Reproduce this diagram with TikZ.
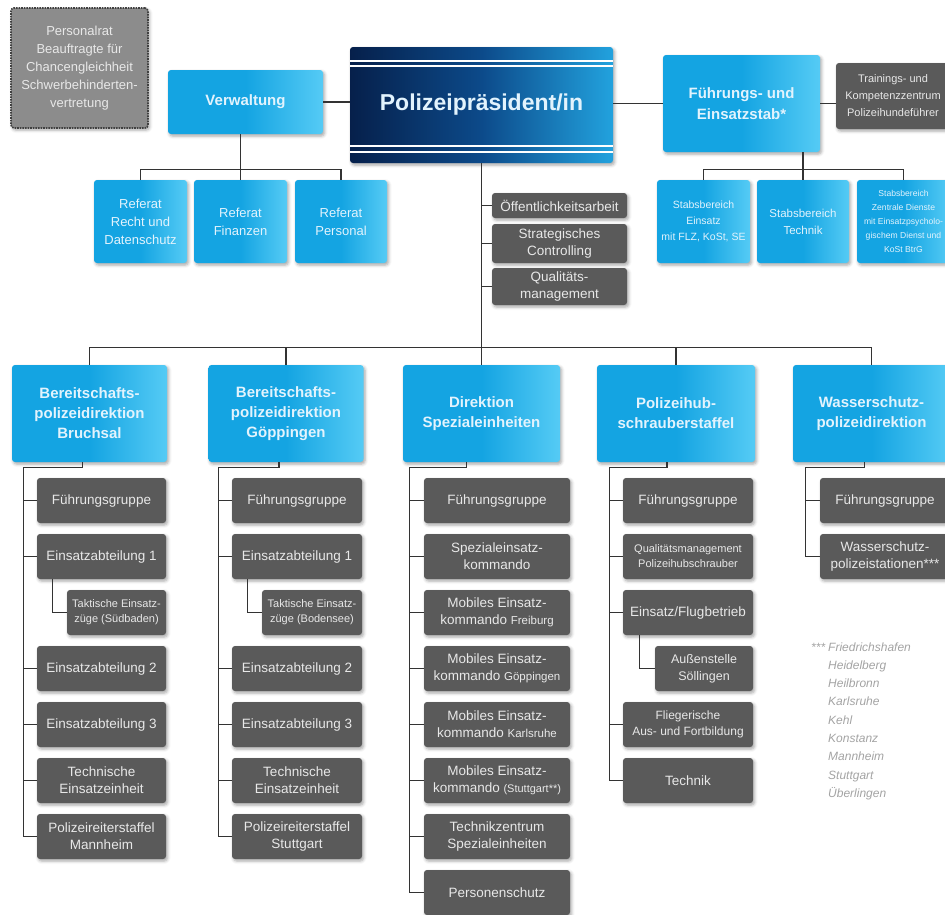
\documentclass[tikz,border=0pt]{standalone}
\usepackage{fontspec}
\setmainfont{Liberation Sans}
\usetikzlibrary{calc,shadows.blur}

\definecolor{cyanA}{HTML}{14A4E2}
\definecolor{cyanB}{HTML}{55CBF5}
\definecolor{navyA}{HTML}{06204B}
\definecolor{navyM}{HTML}{0C4A8A}
\definecolor{navyB}{HTML}{22A2DE}
\definecolor{boxgray}{HTML}{5A5A5A}
\definecolor{palegray}{HTML}{8C8C8C}
\definecolor{paletext}{HTML}{E2F3FD}
\definecolor{graytext}{HTML}{E8E8E8}
\definecolor{linecol}{HTML}{333333}
\definecolor{notecol}{HTML}{A3A3A3}

\newcommand\fsz[2]{\fontsize{#1}{#2}\selectfont}

\tikzset{
  unitbox/.style={rounded corners=3pt, inner sep=1pt, align=center,
    blur shadow={shadow xshift=1.5pt, shadow yshift=-2pt,
      shadow blur radius=3pt, shadow opacity=35}},
  bluebox/.style={unitbox, left color=cyanA, right color=cyanB,
    middle color=cyanA, text=paletext},
  headbox/.style={bluebox, font=\bfseries\fsz{15}{20},
    minimum width=155pt, minimum height=97pt},
  darkbox/.style={unitbox, fill=boxgray, text=graytext, font=\fsz{13.5}{17}},
  unit/.style={darkbox, minimum height=45pt},
  conn/.style={draw=linecol, line width=1.3pt},
}

\begin{document}
\begin{tikzpicture}[x=1pt, y=-1pt]
\useasboundingbox (0,0) rectangle (945,914);
\clip (0,0) rectangle (945,914);

% ---------- top level ----------
\node[unitbox, fill=palegray, draw=black!75, densely dotted, line width=1.6pt,
  text=graytext, font=\fsz{13}{18}, minimum width=137pt, minimum height=120pt]
  (pr) at (79.5,68) {Personalrat\\Beauftragte für\\Chancengleichheit\\Schwerbehinderten-\\vertretung};

\node[bluebox, font=\bfseries\fsz{15}{20}, minimum width=155pt, minimum height=64pt]
  (verw) at (245.5,102) {Verwaltung};

\node[unitbox, left color=navyA, right color=navyB, middle color=navyM,
  text=paletext, font=\bfseries\fsz{23}{26}, minimum width=263pt, minimum height=116pt,
  path picture={
    \foreach \yy in {14,19}
      \draw[white, line width=1.6pt]
        ([yshift=-\yy pt]path picture bounding box.north west) --
        ([yshift=-\yy pt]path picture bounding box.north east);
    \foreach \yy in {11,17}
      \draw[white, line width=1.6pt]
        ([yshift=\yy pt]path picture bounding box.south west) --
        ([yshift=\yy pt]path picture bounding box.south east);
  }] (pp) at (481.5,105) {Polizeipräsident/in};

\node[bluebox, font=\bfseries\fsz{15}{21}, minimum width=157pt, minimum height=97pt]
  (fes) at (741.5,103.5) {Führungs- und\\Einsatzstab*};

\node[darkbox, font=\fsz{11}{17}, minimum width=114pt, minimum height=66pt]
  (tk) at (893,96) {Trainings- und\\Kompetenzzentrum\\Polizeihundeführer};

% ---------- second level ----------
\node[bluebox, font=\fsz{13}{18}, minimum width=93pt, minimum height=83pt]
  (ref1) at (140.5,221.5) {Referat\\Recht und\\Datenschutz};
\node[bluebox, font=\fsz{13}{18}, minimum width=93pt, minimum height=83pt]
  (ref2) at (240.5,221.5) {Referat\\Finanzen};
\node[bluebox, font=\fsz{13}{18}, minimum width=92pt, minimum height=83pt]
  (ref3) at (341,221.5) {Referat\\Personal};

\node[bluebox, font=\fsz{10.5}{16}, minimum width=93pt, minimum height=83pt]
  (sb1) at (703.5,221.5) {Stabsbereich\\Einsatz\\mit FLZ, KoSt, SE};
\node[bluebox, font=\fsz{11.5}{17}, minimum width=92pt, minimum height=83pt]
  (sb2) at (803,221.5) {Stabsbereich\\Technik};
\node[bluebox, font=\fsz{8.6}{14}, minimum width=93pt, minimum height=83pt]
  (sb3) at (903.5,221.5) {Stabsbereich\\Zentrale Dienste\\mit Einsatzpsycholo-\\gischem Dienst und\\KoSt BtrG};

\node[darkbox, minimum width=135pt, minimum height=25pt]
  (oeff) at (559.5,205.5) {Öffentlichkeitsarbeit};
\node[darkbox, minimum width=135pt, minimum height=39pt]
  (strat) at (559.5,243.5) {Strategisches\\Controlling};
\node[darkbox, minimum width=135pt, minimum height=37pt]
  (qual) at (559.5,286.5) {Qualitäts-\\management};

% ---------- directorates ----------
\node[headbox] (h1) at (89.5,413.5) {Bereitschafts-\\polizeidirektion\\Bruchsal};
\node[headbox] (h2) at (286,413.5) {Bereitschafts-\\polizeidirektion\\Göppingen};
\node[headbox, minimum width=157pt] (h3) at (481.5,413.5) {Direktion\\Spezialeinheiten};
\node[headbox, minimum width=158pt] (h4) at (676,413.5) {Polizeihub-\\schrauberstaffel};
\node[headbox, minimum width=157pt] (h5) at (871.5,413.5) {Wasserschutz-\\polizeidirektion};

% column 1
\node[unit, minimum width=129pt] (c1a) at (101.5,500.5) {Führungsgruppe};
\node[unit, minimum width=129pt] (c1b) at (101.5,556.5) {Einsatzabteilung 1};
\node[unit, minimum width=99pt, font=\fsz{11}{15}] (c1c) at (116.5,612.5) {Taktische Einsatz-\\züge (Südbaden)};
\node[unit, minimum width=129pt] (c1d) at (101.5,668.5) {Einsatzabteilung 2};
\node[unit, minimum width=129pt] (c1e) at (101.5,724.5) {Einsatzabteilung 3};
\node[unit, minimum width=129pt] (c1f) at (101.5,780.5) {Technische\\Einsatzeinheit};
\node[unit, minimum width=129pt] (c1g) at (101.5,836.5) {Polizeireiterstaffel\\Mannheim};

% column 2
\node[unit, minimum width=130pt] (c2a) at (297,500.5) {Führungsgruppe};
\node[unit, minimum width=130pt] (c2b) at (297,556.5) {Einsatzabteilung 1};
\node[unit, minimum width=100pt, font=\fsz{11}{15}] (c2c) at (312,612.5) {Taktische Einsatz-\\züge (Bodensee)};
\node[unit, minimum width=130pt] (c2d) at (297,668.5) {Einsatzabteilung 2};
\node[unit, minimum width=130pt] (c2e) at (297,724.5) {Einsatzabteilung 3};
\node[unit, minimum width=130pt] (c2f) at (297,780.5) {Technische\\Einsatzeinheit};
\node[unit, minimum width=130pt] (c2g) at (297,836.5) {Polizeireiterstaffel\\Stuttgart};

% column 3
\node[unit, minimum width=146pt] (c3a) at (497,500.5) {Führungsgruppe};
\node[unit, minimum width=146pt] (c3b) at (497,556.5) {Spezialeinsatz-\\kommando};
\node[unit, minimum width=146pt] (c3c) at (497,612.5) {Mobiles Einsatz-\\kommando {\fsz{11.5}{17}Freiburg}};
\node[unit, minimum width=146pt] (c3d) at (497,668.5) {Mobiles Einsatz-\\kommando {\fsz{11.5}{17}Göppingen}};
\node[unit, minimum width=146pt] (c3e) at (497,724.5) {Mobiles Einsatz-\\kommando {\fsz{11.5}{17}Karlsruhe}};
\node[unit, minimum width=146pt] (c3f) at (497,780.5) {Mobiles Einsatz-\\kommando {\fsz{11}{17}(Stuttgart**)}};
\node[unit, minimum width=146pt] (c3g) at (497,836.5) {Technikzentrum\\Spezialeinheiten};
\node[unit, minimum width=146pt] (c3h) at (497,892.5) {Personenschutz};

% column 4
\node[unit, minimum width=130pt] (c4a) at (688,500.5) {Führungsgruppe};
\node[unit, minimum width=130pt, font=\fsz{11}{15}] (c4b) at (688,556.5) {Qualitätsmanagement\\Polizeihubschrauber};
\node[unit, minimum width=130pt] (c4c) at (688,612.5) {Einsatz/Flugbetrieb};
\node[unit, minimum width=98pt, font=\fsz{12.5}{17}] (c4d) at (704,668.5) {Außenstelle\\Söllingen};
\node[unit, minimum width=130pt, font=\fsz{12}{16}] (c4e) at (688,724.5) {Fliegerische\\Aus- und Fortbildung};
\node[unit, minimum width=130pt] (c4f) at (688,780.5) {Technik};

% column 5
\node[unit, minimum width=130pt] (c5a) at (885,500.5) {Führungsgruppe};
\node[unit, minimum width=130pt] (c5b) at (885,556.5) {Wasserschutz-\\polizeistationen***};

% footnote with the station list
\node[anchor=north west, inner sep=0pt, font=\itshape\fsz{12}{18.3}, text=notecol]
  (note) at (811,638) {\begin{tabular}{@{}l@{\hspace{3pt}}l@{}}
  ***&Friedrichshafen\\ &Heidelberg\\ &Heilbronn\\ &Karlsruhe\\ &Kehl\\
  &Konstanz\\ &Mannheim\\ &Stuttgart\\ &Überlingen\end{tabular}};

% ---------- connectors ----------
\draw[conn] (verw.east) -- (verw.east -| pp.west);
\draw[conn] (pp.east |- fes.west) -- (fes.west);
\draw[conn] (fes.east) -- (fes.east -| tk.west);

\draw[conn] (ref2.north) -- (ref2.north |- verw.south);
\draw[conn] (ref1.north) -- ++(0,-10) -| (ref3.north);
\draw[conn] (sb2.north) -- (sb2.north |- fes.south);
\draw[conn] (sb1.north) -- ++(0,-10) -| (sb3.north);

\draw[conn] (pp.south) -- (h3.north);
\foreach \n in {oeff,strat,qual}
  \draw[conn] (\n.west) -- (\n.west -| pp.south);
\draw[conn] (h1.north) -- ++(0,-17) -| (h5.north);
\draw[conn] (h2.north) -- ++(0,-17);
\draw[conn] (h4.north) -- ++(0,-17);

% branch lines of each directorate
\draw[conn] ($(h1.south)+(-7,0)$) -- ++(0,5) -| ($(c1g.west)+(-13,0)$) -- (c1g.west);
\foreach \n in {c1a,c1b,c1d,c1e,c1f} \draw[conn] (\n.west) -- ++(-13,0);
\draw[conn] ($(c1b.south west)+(16,0)$) |- (c1c.west);

\draw[conn] ($(h2.south)+(-7,0)$) -- ++(0,5) -| ($(c2g.west)+(-13,0)$) -- (c2g.west);
\foreach \n in {c2a,c2b,c2d,c2e,c2f} \draw[conn] (\n.west) -- ++(-13,0);
\draw[conn] ($(c2b.south west)+(16,0)$) |- (c2c.west);

\draw[conn] ($(h3.south)+(-15,0)$) -- ++(0,5) -| ($(c3h.west)+(-14,0)$) -- (c3h.west);
\foreach \n in {c3a,c3b,c3c,c3d,c3e,c3f,c3g} \draw[conn] (\n.west) -- ++(-14,0);

\draw[conn] ($(h4.south)+(-9,0)$) -- ++(0,5) -| ($(c4f.west)+(-13,0)$) -- (c4f.west);
\foreach \n in {c4a,c4b,c4c,c4e} \draw[conn] (\n.west) -- ++(-13,0);
\draw[conn] ($(c4c.south west)+(17,0)$) |- (c4d.west);

\draw[conn] ($(h5.south)+(-7,0)$) -- ++(0,5) -| ($(c5b.west)+(-14,0)$) -- (c5b.west);
\draw[conn] (c5a.west) -- ++(-14,0);
\end{tikzpicture}
\end{document}
